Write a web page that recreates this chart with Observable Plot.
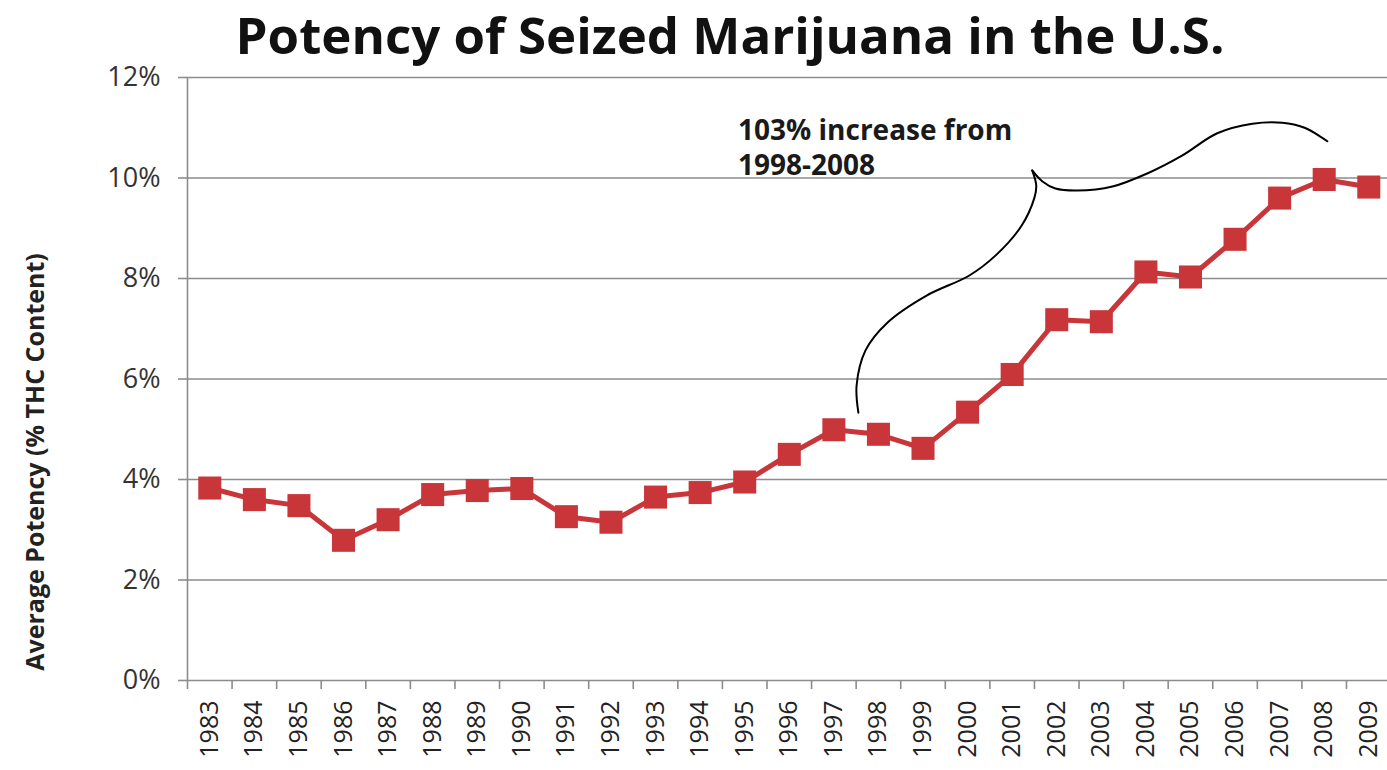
<!DOCTYPE html>
<html>
<head>
<meta charset="utf-8">
<script src="https://cdn.jsdelivr.net/npm/d3@7"></script>
<script src="https://cdn.jsdelivr.net/npm/@observablehq/plot@0.6"></script>
<style>
  html, body { margin: 0; padding: 0; background: #fff; overflow: hidden; }
  #title { height: 60px; width: 1387px; font-family: "Open Sans", Lato, sans-serif; font-weight: 700;
           font-size: 51px; color: #111; text-align: center; line-height: 68px; box-sizing: border-box; padding-left: 73px; white-space: nowrap; }
  #chart svg { display: block; }
</style>
</head>
<body>
<div id="title">Potency of Seized Marijuana in the U.S.</div>
<div id="chart"></div>
<script>
// Data
const years = [1983,1984,1985,1986,1987,1988,1989,1990,1991,1992,1993,1994,1995,1996,1997,1998,1999,2000,2001,2002,2003,2004,2005,2006,2007,2008,2009];
const potency = [3.83,3.60,3.48,2.79,3.20,3.70,3.78,3.82,3.26,3.15,3.65,3.74,3.95,4.50,4.99,4.90,4.62,5.34,6.09,7.18,7.14,8.13,8.03,8.78,9.60,9.97,9.82];
const yTicks = [0,2,4,6,8,10,12];
const annotationText = ["103% increase from", "1998-2008"];
const annotationPos = {year: 1994.85, value: 10.63};
// brace path (data units) — lower limb up to the cusp, then upper limb
const braceLowerYear = [1997.55,1997.51,1997.71,1998.20,1999.08,2000.04,2000.63,2001.21,2001.50,2001.54,2001.45];
const braceLowerVal  = [5.33,5.87,6.57,7.12,7.66,8.06,8.46,9.05,9.61,9.85,10.15];
const braceUpperYear = [2001.45,2001.68,2001.97,2002.46,2003.25,2004.03,2004.82,2005.60,2006.39,2007.06,2007.56,2007.94,2008.07];
const braceUpperVal  = [10.15,9.93,9.79,9.75,9.83,10.09,10.45,10.89,11.08,11.10,11.00,10.81,10.73];

const series = years.map((y, i) => ({year: y, value: potency[i]}));
const brace = [
  ...braceLowerYear.map((y, i) => ({year: y, value: braceLowerVal[i], part: "lower"})),
  ...braceUpperYear.map((y, i) => ({year: y, value: braceUpperVal[i], part: "upper"}))
];
const halfTicks = years.map(y => y - 0.5).concat([years[years.length - 1] + 0.5]);

const red = "#c8363a";
const grid = "#8c8c8c";
const font = "'Open Sans', Lato, sans-serif";

const chart = Plot.plot({
  width: 1387,
  height: 710,
  marginLeft: 187,
  marginRight: 0,
  marginTop: 17,
  marginBottom: 90,
  style: {fontFamily: font, background: "#fff", overflow: "visible"},
  x: {type: "linear", domain: [1982.5, 2009.42]},
  y: {domain: [0, 12]},
  marks: [
    Plot.ruleY(yTicks, {stroke: grid, strokeWidth: 1.6, x1: 1982.5, x2: 2009.42}),
    Plot.axisY({ticks: yTicks, tickFormat: d => d + "%", tickSize: 9, tickPadding: 18, stroke: grid, strokeWidth: 1.6,
                fontSize: 27, fill: "#333", label: null}),
    Plot.ruleX([1982.5], {stroke: grid, strokeWidth: 1.6}),
    Plot.axisX({ticks: halfTicks, tickFormat: () => "", tickSize: 9, stroke: grid, strokeWidth: 1.6, label: null}),
    Plot.axisX({ticks: years, tickFormat: d => String(d), tickSize: 0, tickPadding: 20, tickRotate: -90,
                fontSize: 25, fill: "#222", label: null}),
    Plot.line(brace, {x: "year", y: "value", z: "part", curve: "catmull-rom", stroke: "#000", strokeWidth: 2}),
    Plot.line(series, {x: "year", y: "value", stroke: red, strokeWidth: 5}),
    Plot.dot(series, {x: "year", y: "value", symbol: "square", r: 13, fill: red, stroke: "none"}),
    Plot.text([annotationText.join("\n")], {x: annotationPos.year, y: annotationPos.value, textAnchor: "start",
                lineAnchor: "middle", lineHeight: 1.25, fontSize: 28, fontWeight: 700, fill: "#1a1a1a"})
  ]
});
document.getElementById("chart").appendChild(chart);

// rotated y-axis title
const svg = d3.select(chart);
svg.append("text")
  .attr("transform", "translate(37,402) rotate(-90)")
  .attr("text-anchor", "middle")
  .attr("dominant-baseline", "middle")
  .attr("font-family", font)
  .attr("font-weight", 700)
  .attr("font-size", 25)
  .attr("fill", "#222")
  .text("Average Potency (% THC Content)");
</script>
</body>
</html>
